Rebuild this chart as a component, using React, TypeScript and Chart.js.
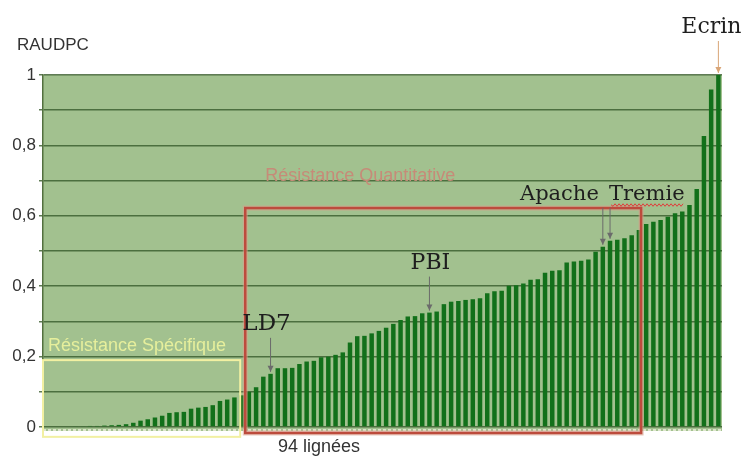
import React, { useEffect, useRef } from "react";
import { Chart, registerables } from "chart.js";
Chart.register(...registerables);

const categories: string[] = Array.from({ length: 94 }, (_, i) => "L" + (i + 1));

const raudpc: number[] = [
  0, 0, 0, 0, 0.002, 0.002, 0.003, 0.003, 0.004, 0.005,
  0.006, 0.008, 0.012, 0.018, 0.022, 0.027, 0.032, 0.04, 0.042, 0.043,
  0.052, 0.055, 0.057, 0.062, 0.074, 0.078, 0.084, 0.09, 0.1, 0.113,
  0.143, 0.151, 0.167, 0.167, 0.168, 0.179, 0.186, 0.188, 0.198, 0.2,
  0.205, 0.212, 0.24, 0.258, 0.259, 0.266, 0.273, 0.282, 0.293, 0.304,
  0.314, 0.315, 0.323, 0.325, 0.328, 0.349, 0.356, 0.358, 0.361, 0.363,
  0.366, 0.38, 0.386, 0.387, 0.401, 0.403, 0.408, 0.418, 0.42, 0.438,
  0.444, 0.445, 0.467, 0.47, 0.472, 0.476, 0.498, 0.512, 0.529, 0.532,
  0.536, 0.545, 0.56, 0.577, 0.583, 0.588, 0.597, 0.607, 0.612, 0.631,
  0.676, 0.827, 0.959, 1.0,
];

const yTickLabels = ["0", "0,2", "0,4", "0,6", "0,8", "1"];

const markerNames = ["LD7", "PBI", "Apache", "Tremie", "Ecrin"];
const markerIndex = [31, 53, 77, 78, 93];

const groupNames = ["Résistance Spécifique", "Résistance Quantitative"];
const groupStart = [-0.5, 27.5];
const groupEnd = [26.8, 82.3];
const groupTop = [0.19, 0.622];
const groupBottom = [-0.028, -0.017];

const yAxisTitle = "RAUDPC";
const xAxisTitle = "94 lignées";

const SANS = '"Liberation Sans", Arial, sans-serif';
const SERIF = '"DejaVu Serif", serif';

// label styles (layout only)
const markerStyle: Record<string, { align: CanvasTextAlign; dx: number; dy: number; size: number; arrow: string }> = {
  LD7: { align: "center", dx: -4, dy: -44, size: 23, arrow: "#6b6b6b" },
  PBI: { align: "center", dx: 1, dy: -44, size: 22, arrow: "#6b6b6b" },
  Apache: { align: "right", dx: -4, dy: -47, size: 21, arrow: "#6b6b6b" },
  Tremie: { align: "left", dx: -1, dy: -41, size: 21, arrow: "#6b6b6b" },
  Ecrin: { align: "center", dx: -7, dy: -42, size: 22, arrow: "#d9a577" },
};

function drawArrow(ctx: CanvasRenderingContext2D, x: number, y1: number, y2: number, color: string) {
  ctx.save();
  ctx.strokeStyle = color;
  ctx.lineWidth = 1;
  ctx.beginPath();
  ctx.moveTo(x, y1);
  ctx.lineTo(x, y2);
  ctx.stroke();
  ctx.fillStyle = color;
  ctx.beginPath();
  ctx.moveTo(x - 3, y2 - 6);
  ctx.lineTo(x, y2);
  ctx.lineTo(x + 3, y2 - 6);
  ctx.closePath();
  ctx.fill();
  ctx.restore();
}

const annotationPlugin = {
  id: "annotations",
  beforeDraw(chart: any) {
    const { ctx, chartArea: a } = chart;
    ctx.save();
    ctx.fillStyle = "#a2c18f";
    ctx.fillRect(a.left, a.top, a.right - a.left, a.bottom - a.top + 4);
    ctx.restore();
  },
  afterDraw(chart: any) {
    const ctx: CanvasRenderingContext2D = chart.ctx;
    const xs = chart.scales.x;
    const ys = chart.scales.y;
    const a = chart.chartArea;
    const meta = chart.getDatasetMeta(0);

    // zero dotted line
    ctx.save();
    ctx.strokeStyle = "rgba(255,248,240,0.85)";
    ctx.setLineDash([3, 2]);
    ctx.lineWidth = 1.5;
    ctx.beginPath();
    ctx.moveTo(a.left, ys.getPixelForValue(0) + 3);
    ctx.lineTo(a.right, ys.getPixelForValue(0) + 3);
    ctx.stroke();
    ctx.restore();

    // axis titles
    ctx.save();
    ctx.fillStyle = "#333";
    ctx.font = "17px " + SANS;
    ctx.textAlign = "left";
    ctx.textBaseline = "middle";
    ctx.fillText(yAxisTitle, 17, 45);
    ctx.font = "18px " + SANS;
    ctx.fillText(xAxisTitle, 278, 447);
    ctx.restore();

    // group boxes
    const boxColors = ["#f2f0a2", "#bd4b3d"];
    const textColors = ["#e6ef9c", "#c68b78"];
    for (let g = 0; g < groupNames.length; g++) {
      const x1 = xs.getPixelForValue(groupStart[g]);
      const x2 = xs.getPixelForValue(groupEnd[g]);
      const y1 = ys.getPixelForValue(groupTop[g]);
      const y2 = ys.getPixelForValue(groupBottom[g]);
      ctx.save();
      if (g === 1) {
        ctx.strokeStyle = "rgba(215,160,140,0.6)";
        ctx.lineWidth = 5;
        ctx.strokeRect(x1, y1, x2 - x1, y2 - y1);
      }
      ctx.strokeStyle = boxColors[g];
      ctx.lineWidth = g === 1 ? 2.5 : 2;
      ctx.strokeRect(x1, y1, x2 - x1, y2 - y1);
      ctx.fillStyle = textColors[g];
      ctx.font = "18px " + SANS;
      ctx.textAlign = "left";
      ctx.textBaseline = "middle";
      if (g === 0) ctx.fillText(groupNames[g], x1 + 5, y1 - 14);
      else ctx.fillText(groupNames[g], x1 + 20, y1 - 32);
      ctx.restore();
    }

    // markers
    for (let m = 0; m < markerNames.length; m++) {
      const name = markerNames[m];
      const st = markerStyle[name];
      const el = meta.data[markerIndex[m]];
      const bx = el.x;
      const by = el.y;
      const base = by + st.dy;
      ctx.save();
      ctx.fillStyle = "#1e1e1e";
      ctx.font = st.size + "px " + SERIF;
      ctx.textAlign = st.align;
      ctx.textBaseline = "alphabetic";
      const tx = bx + st.dx;
      ctx.fillText(name, tx, base);
      if (name === "Tremie") {
        const w = ctx.measureText(name).width;
        ctx.strokeStyle = "#e23a3a";
        ctx.lineWidth = 1;
        ctx.beginPath();
        const yy = base + 5;
        for (let xx = tx + 2, k = 0; xx <= tx + w; xx += 2, k++) {
          if (k === 0) ctx.moveTo(xx, yy);
          else ctx.lineTo(xx, yy + (k % 2 ? 1.5 : -1));
        }
        ctx.stroke();
      }
      ctx.restore();
      drawArrow(ctx, bx, base + 8, by - 2, st.arrow);
    }
  },
};

export default function App() {
  const ref = useRef<HTMLCanvasElement | null>(null);
  useEffect(() => {
    if (!ref.current) return;
    const chart = new Chart(ref.current, {
      type: "bar",
      data: {
        labels: categories,
        datasets: [
          {
            label: yAxisTitle,
            data: raudpc,
            backgroundColor: "#12701a",
            borderWidth: 0,
            barPercentage: 0.62,
            categoryPercentage: 1.0,
          },
        ],
      },
      options: {
        responsive: false,
        animation: false,
        devicePixelRatio: 1,
        layout: { padding: { top: 75, right: 20, left: 0, bottom: 0 } },
        plugins: { legend: { display: false }, tooltip: { enabled: false } },
        scales: {
          x: {
            type: "category",
            grid: { display: false },
            ticks: { display: false },
            border: { display: false },
            afterFit: (s: any) => {
              s.height = 30;
            },
          },
          y: {
            min: 0,
            max: 1,
            ticks: {
              stepSize: 0.1,
              autoSkip: false,
              padding: 3,
              color: "#333",
              font: { family: SANS, size: 17 },
              callback: (_v: any, i: number) => (i % 2 === 0 ? yTickLabels[i / 2] : ""),
            },
            grid: { color: "rgba(55,90,42,0.8)", lineWidth: 1.5, tickLength: 4 },
            border: { display: true, color: "#52703f", width: 1.5 },
            afterFit: (s: any) => {
              s.width = 43;
            },
          },
        },
      },
      plugins: [annotationPlugin],
    } as any);
    return () => chart.destroy();
  }, []);
  return (
    <div style={{ position: "absolute", left: 0, top: 0, width: 742, height: 457, background: "#fff" }}>
      <canvas ref={ref} width={742} height={457} style={{ display: "block" }} />
    </div>
  );
}
